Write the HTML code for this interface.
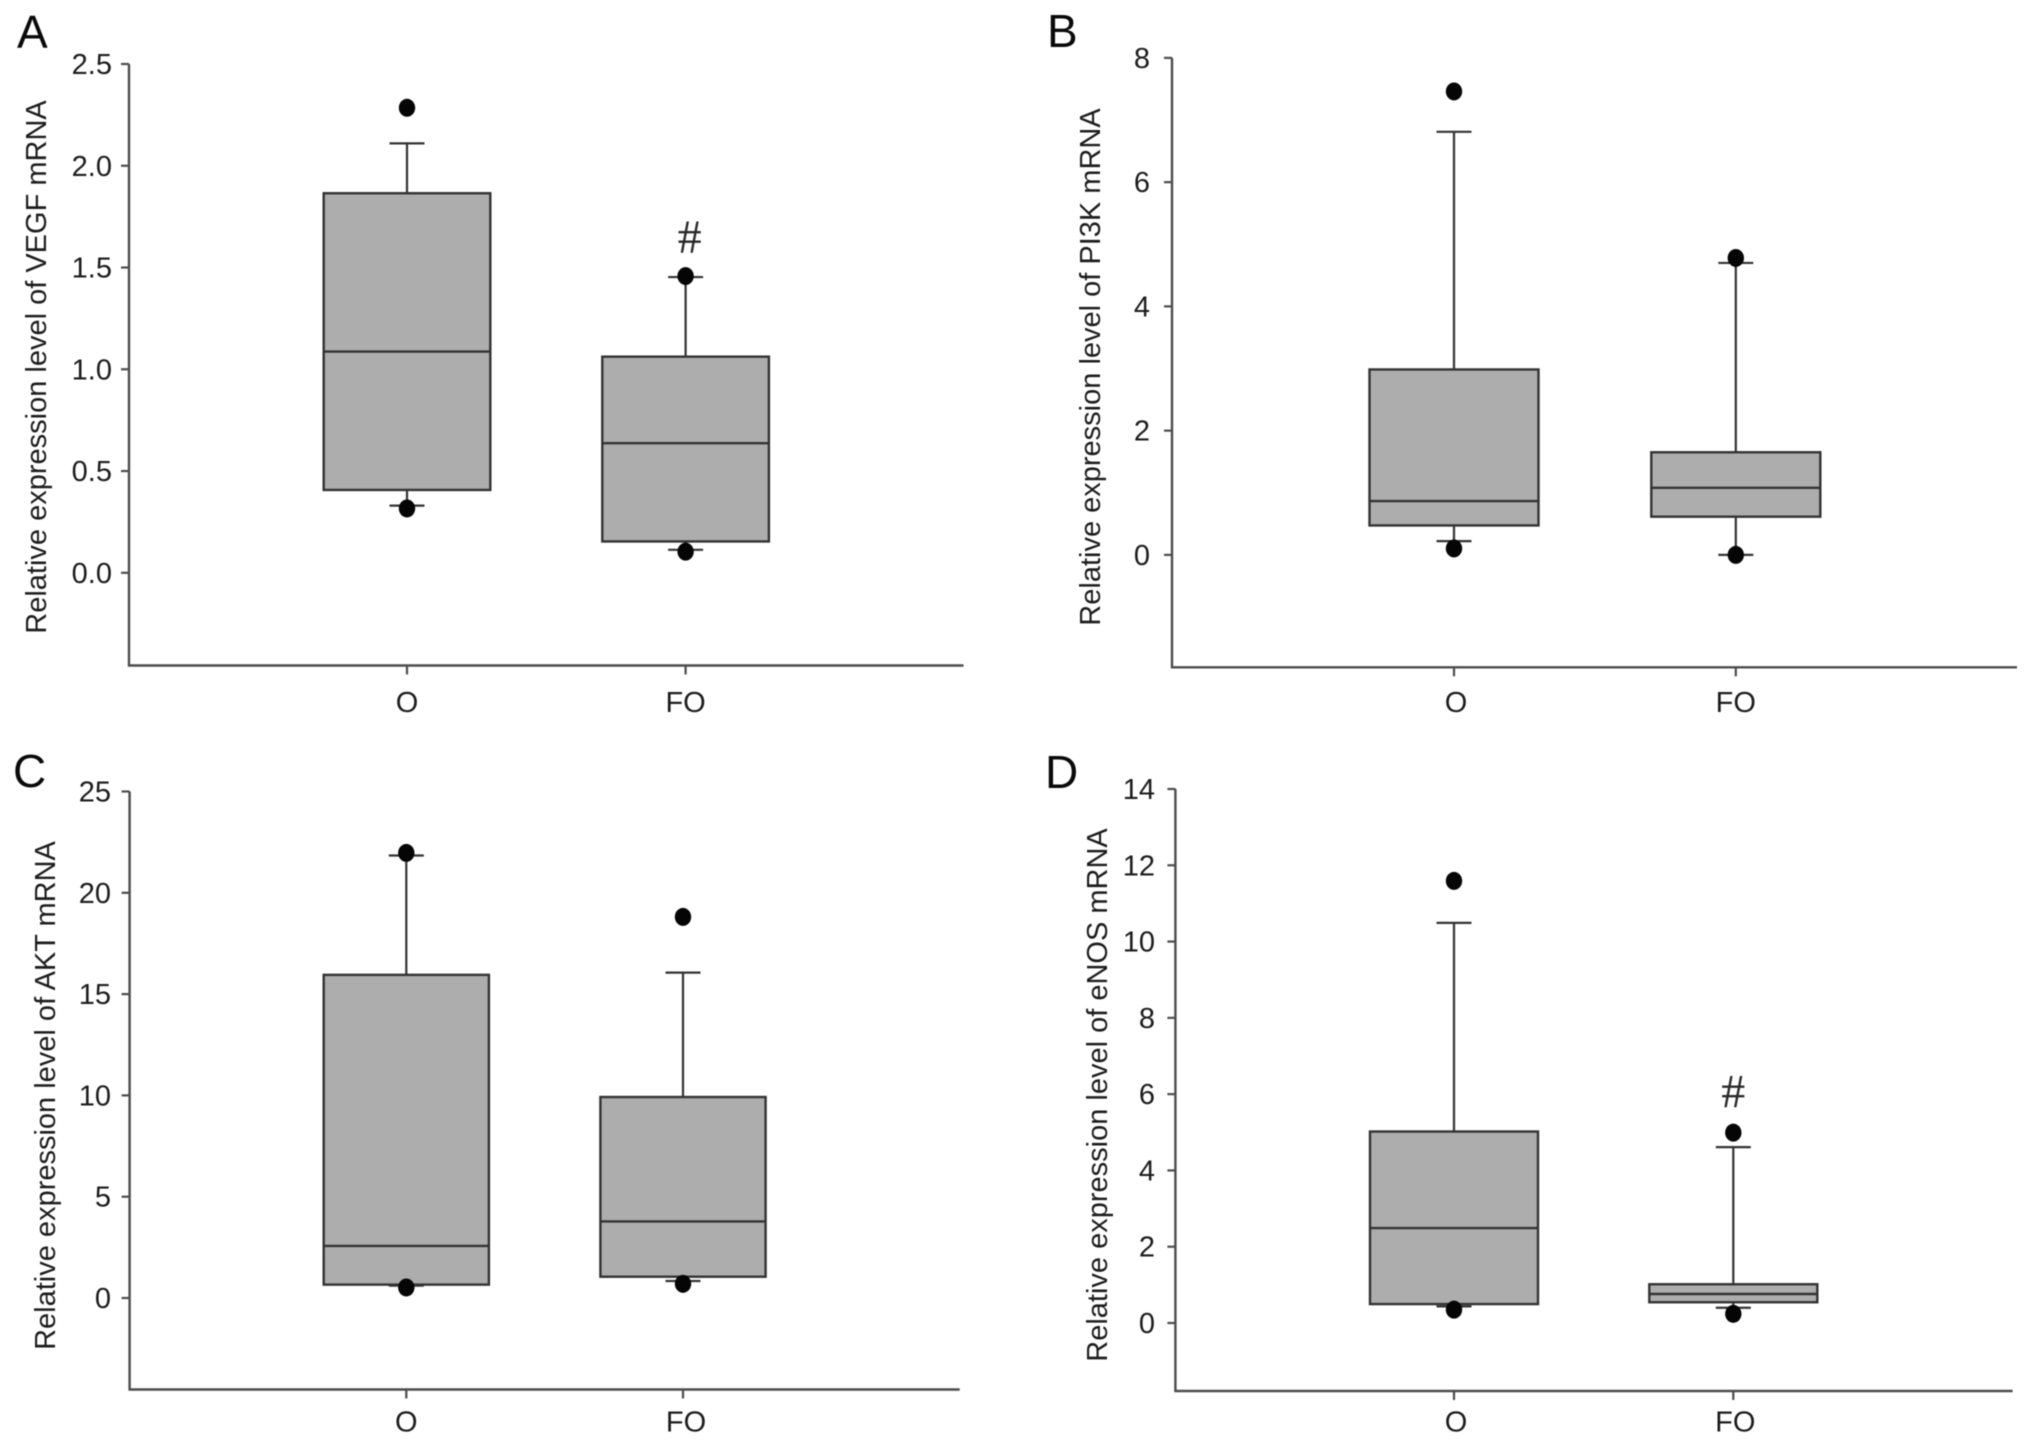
<!DOCTYPE html>
<html lang="en">
<head>
<meta charset="utf-8">
<title>Relative mRNA expression box plots</title>
<style>
html,body{margin:0;padding:0;background:#fff;}
#figure{display:block;width:2032px;height:1445px;filter:blur(0.5px);}
text{font-family:"Liberation Sans",sans-serif;fill:#1c1c1c;}
.tick-label,.cat-label,.y-title{font-size:29px;}
.panel-letter{font-size:46px;fill:#0a0a0a;}
.hash{font-family:"Liberation Serif",serif;font-size:48px;fill:#2a2a2a;text-anchor:middle;}
</style>
</head>
<body>
<svg id="figure" xmlns="http://www.w3.org/2000/svg" width="2032" height="1445" viewBox="0 0 2032 1445">
  <rect x="0" y="0" width="2032" height="1445" fill="#ffffff"/>
  <text class="panel-letter" x="17" y="48">A</text>
  <text class="panel-letter" x="1047" y="47">B</text>
  <text class="panel-letter" x="13" y="787">C</text>
  <text class="panel-letter" x="1045" y="788">D</text>
  <text class="y-title" text-anchor="middle" transform="translate(46,367) rotate(-90)">Relative expression level of VEGF mRNA</text>
  <text class="y-title" text-anchor="middle" transform="translate(1100,367) rotate(-90)">Relative expression level of PI3K mRNA</text>
  <text class="y-title" text-anchor="middle" transform="translate(55,1095.5) rotate(-90)">Relative expression level of AKT mRNA</text>
  <text class="y-title" text-anchor="middle" transform="translate(1107,1095) rotate(-90)">Relative expression level of eNOS mRNA</text>
  <g id="plots"></g>
</svg>
<script>
const categories = ['O', 'FO'];

const vegfTicks = ['0.0', '0.5', '1.0', '1.5', '2.0', '2.5'];
const vegfWhiskerHigh = [2.11, 1.453];
const vegfQ3 = [1.865, 1.062];
const vegfMedian = [1.087, 0.637];
const vegfQ1 = [0.407, 0.154];
const vegfWhiskerLow = [0.33, 0.113];
const vegfOutlierHigh = [2.285, 1.458];
const vegfOutlierLow = [0.316, 0.104];
const vegfHashAt = [null, 1.646];

const pi3kTicks = ['0', '2', '4', '6', '8'];
const pi3kWhiskerHigh = [6.81, 4.70];
const pi3kQ3 = [2.985, 1.652];
const pi3kMedian = [0.867, 1.08];
const pi3kQ1 = [0.474, 0.615];
const pi3kWhiskerLow = [0.222, 0.0];
const pi3kOutlierHigh = [7.46, 4.78];
const pi3kOutlierLow = [0.104, 0.0];
const pi3kHashAt = [null, null];

const aktTicks = ['0', '5', '10', '15', '20', '25'];
const aktWhiskerHigh = [21.84, 16.06];
const aktQ3 = [15.95, 9.92];
const aktMedian = [2.57, 3.78];
const aktQ1 = [0.66, 1.05];
const aktWhiskerLow = [0.61, 0.84];
const aktOutlierHigh = [21.97, 18.81];
const aktOutlierLow = [0.52, 0.7];
const aktHashAt = [null, null];

const enosTicks = ['0', '2', '4', '6', '8', '10', '12', '14'];
const enosWhiskerHigh = [10.49, 4.61];
const enosQ3 = [5.02, 1.016];
const enosMedian = [2.49, 0.76];
const enosQ1 = [0.496, 0.544];
const enosWhiskerLow = [0.435, 0.4];
const enosOutlierHigh = [11.59, 4.99];
const enosOutlierLow = [0.35, 0.24];
const enosHashAt = [null, 6.04];

const NS = 'http://www.w3.org/2000/svg';
const plots = document.getElementById('plots');

function make(tag, attrs, parent) {
  const el = document.createElementNS(NS, tag);
  for (const k in attrs) el.setAttribute(k, attrs[k]);
  parent.appendChild(el);
  return el;
}

function drawPanel(p) {
  const g = make('g', {}, plots);
  
  

  const tickValues = p.ticks.map(Number);
  const vMax = tickValues[tickValues.length - 1];
  const y = v => p.zeroPx + (p.maxPx - p.zeroPx) * (v / vMax);
  const x = i => p.cat0 + i * (p.cat1 - p.cat0);
  const axisColor = '#4c4c4c';
  const lineColor = '#333333';

  const yAxis = make('line', {x1: p.axisX, x2: p.axisX, y1: p.maxPx, y2: p.axisY + 1, stroke: axisColor, 'stroke-width': 2.4}, g);
  
  

  const xAxis = make('line', {x1: p.axisX - 1, x2: p.rightX, y1: p.axisY, y2: p.axisY, stroke: axisColor, 'stroke-width': 2.4}, g);
  
  

  p.ticks.forEach((label, i) => {
    const ty = y(tickValues[i]);
    const tick = make('line', {x1: p.axisX - 8, x2: p.axisX, y1: ty, y2: ty, stroke: axisColor, 'stroke-width': 2.2}, g);
    
    
    const text = make('text', {class: 'tick-label', x: p.labelX, y: ty + 10, 'text-anchor': 'end'}, g);
    text.textContent = label;
    
    
  });

  categories.forEach((cat, i) => {
    const cx = x(i);
    const tick = make('line', {x1: cx, x2: cx, y1: p.axisY, y2: p.axisY + 9, stroke: axisColor, 'stroke-width': 2.2}, g);
    
    
    const text = make('text', {class: 'cat-label', x: cx + p.catShift[i], y: p.catBaseline, 'text-anchor': 'middle'}, g);
    text.textContent = cat;
    
    

    const whisker = make('line', {x1: cx, x2: cx, y1: y(p.hi[i]), y2: y(p.lo[i]), stroke: lineColor, 'stroke-width': 2.2}, g);
    
    

    [p.hi[i], p.lo[i]].forEach(v => {
      const cap = make('line', {x1: cx - 17.5, x2: cx + 17.5, y1: y(v), y2: y(v), stroke: lineColor, 'stroke-width': 2.2}, g);
      
      
    });

    const box = make('rect', {x: cx - p.halfBox, width: 2 * p.halfBox, y: y(p.q3[i]), height: y(p.q1[i]) - y(p.q3[i]), fill: '#adadad', stroke: lineColor, 'stroke-width': 2.4}, g);
    
    

    const median = make('line', {x1: cx - p.halfBox, x2: cx + p.halfBox, y1: y(p.med[i]), y2: y(p.med[i]), stroke: lineColor, 'stroke-width': 2.4}, g);
    
    

    [p.outHi[i], p.outLo[i]].forEach(v => {
      const dot = make('ellipse', {cx: cx, cy: y(v), rx: 8.2, ry: 9, fill: '#050505'}, g);
      
      
    });

    if (p.hash[i] !== null) {
      const mark = make('text', {class: 'hash', x: cx + p.hashShift, y: y(p.hash[i]) + 15}, g);
      mark.textContent = '#';
      
      
    }
  });
}

drawPanel({name: 'vegf', ticks: vegfTicks, hi: vegfWhiskerHigh, q3: vegfQ3, med: vegfMedian, q1: vegfQ1, lo: vegfWhiskerLow, outHi: vegfOutlierHigh, outLo: vegfOutlierLow, hash: vegfHashAt,
  axisX: 129, axisY: 665.5, rightX: 963.5, maxPx: 64, zeroPx: 572.8, cat0: 407, cat1: 685.6, halfBox: 83.3, labelX: 112, catBaseline: 712, catShift: [0, 0], hashShift: 4});
drawPanel({name: 'pi3k', ticks: pi3kTicks, hi: pi3kWhiskerHigh, q3: pi3kQ3, med: pi3kMedian, q1: pi3kQ1, lo: pi3kWhiskerLow, outHi: pi3kOutlierHigh, outLo: pi3kOutlierLow, hash: pi3kHashAt,
  axisX: 1172, axisY: 667.3, rightX: 2017, maxPx: 57.9, zeroPx: 554.9, cat0: 1454, cat1: 1735.8, halfBox: 84.5, labelX: 1150, catBaseline: 712, catShift: [2, 0], hashShift: 0});
drawPanel({name: 'akt', ticks: aktTicks, hi: aktWhiskerHigh, q3: aktQ3, med: aktMedian, q1: aktQ1, lo: aktWhiskerLow, outHi: aktOutlierHigh, outLo: aktOutlierLow, hash: aktHashAt,
  axisX: 129.6, axisY: 1389.5, rightX: 959.7, maxPx: 791.5, zeroPx: 1298, cat0: 406.3, cat1: 683, halfBox: 82.6, labelX: 111, catBaseline: 1431.5, catShift: [0, 3], hashShift: 0});
drawPanel({name: 'enos', ticks: enosTicks, hi: enosWhiskerHigh, q3: enosQ3, med: enosMedian, q1: enosQ1, lo: enosWhiskerLow, outHi: enosOutlierHigh, outLo: enosOutlierLow, hash: enosHashAt,
  axisX: 1175.4, axisY: 1391, rightX: 2012.6, maxPx: 789, zeroPx: 1323, cat0: 1454, cat1: 1733.3, halfBox: 84, labelX: 1155, catBaseline: 1431.5, catShift: [2, 2], hashShift: 0});
</script>
</body>
</html>
